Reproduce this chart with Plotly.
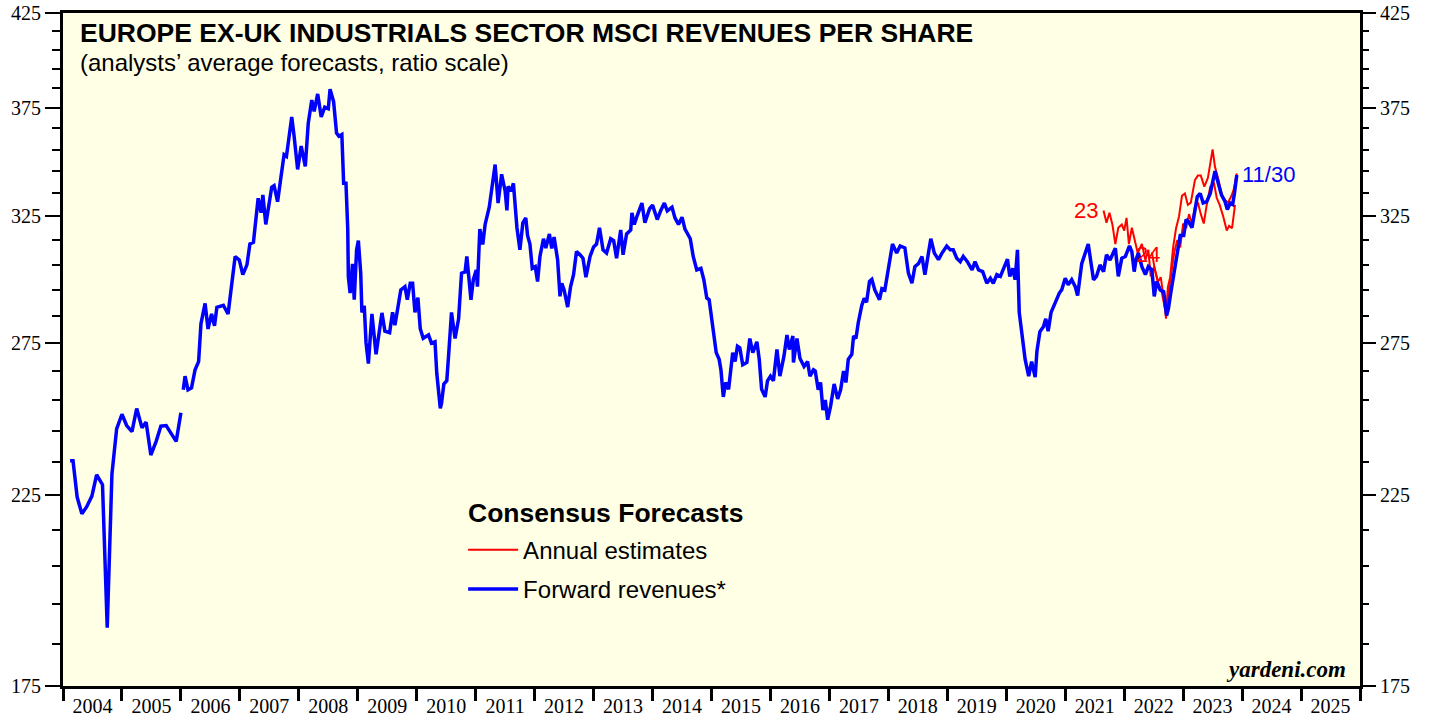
import math
import plotly.graph_objects as go

# ---------------- data ----------------
# Forward revenues (blue). Early monthly part, gap, then weekly part. Time in decimal years.
fwd_t_early = [2004.12, 2004.17, 2004.24, 2004.32, 2004.40, 2004.49, 2004.57, 2004.67, 2004.75, 2004.83,
               2004.91, 2005.00, 2005.08, 2005.17, 2005.25, 2005.34, 2005.41, 2005.49, 2005.58, 2005.66,
               2005.75, 2005.92, 2006.00]
fwd_v_early = [235.5, 235.5, 224.5, 219.6, 221.6, 224.8, 231.2, 228.2, 189.0, 231.4,
               245.6, 250.4, 246.7, 244.7, 252.3, 246.0, 247.8, 237.3, 241.6, 246.5,
               246.7, 241.6, 250.9]

fwd_t = [2006.04, 2006.07, 2006.12, 2006.18, 2006.24, 2006.30, 2006.34, 2006.41, 2006.46, 2006.52,
         2006.57, 2006.61, 2006.72, 2006.80, 2006.85, 2006.92, 2006.99, 2007.05, 2007.12, 2007.17,
         2007.23, 2007.27, 2007.31, 2007.36, 2007.39, 2007.44, 2007.48, 2007.54, 2007.58, 2007.64,
         2007.70, 2007.75, 2007.79, 2007.84, 2007.88, 2007.92, 2007.98, 2008.04, 2008.11, 2008.16,
         2008.22, 2008.26, 2008.32, 2008.38, 2008.44, 2008.50, 2008.53, 2008.59, 2008.64, 2008.68,
         2008.73, 2008.76, 2008.80, 2008.83, 2008.84, 2008.87, 2008.91, 2008.94, 2008.98, 2009.01,
         2009.05, 2009.07, 2009.11, 2009.14, 2009.18, 2009.24, 2009.31, 2009.41, 2009.46, 2009.54,
         2009.59, 2009.63, 2009.69, 2009.73, 2009.80, 2009.84, 2009.89, 2009.93, 2009.97, 2010.02,
         2010.06, 2010.11, 2010.20, 2010.25, 2010.31, 2010.34, 2010.40, 2010.42, 2010.46, 2010.51,
         2010.54, 2010.59, 2010.65, 2010.71, 2010.76, 2010.82, 2010.85, 2010.92, 2010.96, 2011.01,
         2011.03, 2011.07, 2011.12, 2011.16, 2011.23, 2011.27, 2011.33, 2011.38, 2011.44, 2011.50,
         2011.53, 2011.55, 2011.60, 2011.64, 2011.70, 2011.75, 2011.80, 2011.85, 2011.88, 2011.92,
         2011.96, 2012.01, 2012.05, 2012.09, 2012.15, 2012.19, 2012.25, 2012.29, 2012.33, 2012.39,
         2012.43, 2012.46, 2012.50, 2012.56, 2012.61, 2012.66, 2012.71, 2012.77, 2012.82, 2012.87,
         2012.94, 2013.00, 2013.05, 2013.10, 2013.16, 2013.22, 2013.29, 2013.34, 2013.39, 2013.46,
         2013.50, 2013.56, 2013.63, 2013.65, 2013.69, 2013.74, 2013.82, 2013.87, 2013.95, 2014.00,
         2014.08, 2014.14, 2014.20, 2014.25, 2014.33, 2014.38, 2014.44, 2014.50, 2014.55, 2014.64,
         2014.69, 2014.75, 2014.82, 2014.87, 2014.92, 2014.96, 2015.00, 2015.04, 2015.08, 2015.13,
         2015.16, 2015.20, 2015.24, 2015.29, 2015.33, 2015.36, 2015.40, 2015.44, 2015.48, 2015.53,
         2015.60, 2015.65, 2015.70, 2015.77, 2015.81, 2015.85, 2015.91, 2015.95, 2016.00, 2016.05,
         2016.11, 2016.16, 2016.23, 2016.28, 2016.32, 2016.38, 2016.39, 2016.45, 2016.50, 2016.57,
         2016.63, 2016.67, 2016.73, 2016.76, 2016.81, 2016.85, 2016.89, 2016.93, 2016.97, 2017.02,
         2017.08, 2017.14, 2017.19, 2017.24, 2017.28, 2017.32, 2017.38, 2017.41, 2017.45, 2017.49,
         2017.55, 2017.59, 2017.63, 2017.68, 2017.72, 2017.77, 2017.85, 2017.89, 2017.94, 2018.00,
         2018.07, 2018.14, 2018.20, 2018.28, 2018.34, 2018.40, 2018.45, 2018.51, 2018.57, 2018.62,
         2018.68, 2018.72, 2018.78, 2018.85, 2018.91, 2018.99, 2019.05, 2019.10, 2019.16, 2019.22,
         2019.27, 2019.34, 2019.42, 2019.47, 2019.53, 2019.60, 2019.67, 2019.73, 2019.78, 2019.84,
         2019.90, 2019.98, 2020.02, 2020.06, 2020.11, 2020.15, 2020.19, 2020.22, 2020.28, 2020.32,
         2020.38, 2020.43, 2020.49, 2020.52, 2020.57, 2020.63, 2020.67, 2020.71, 2020.76, 2020.83,
         2020.90, 2020.94, 2021.00, 2021.05, 2021.11, 2021.17, 2021.21, 2021.28, 2021.34, 2021.39,
         2021.43, 2021.48, 2021.53, 2021.59, 2021.65, 2021.70, 2021.76, 2021.85, 2021.90, 2021.96,
         2022.02, 2022.09, 2022.13, 2022.17, 2022.20, 2022.24, 2022.30, 2022.36, 2022.41, 2022.47,
         2022.51, 2022.55, 2022.61, 2022.67, 2022.72, 2022.75, 2022.79, 2022.84, 2022.89, 2022.95,
         2023.01, 2023.05, 2023.09, 2023.15, 2023.20, 2023.24, 2023.29, 2023.34, 2023.40, 2023.46,
         2023.54, 2023.60, 2023.65, 2023.71, 2023.75, 2023.80, 2023.84, 2023.87, 2023.91]
fwd_v = [258.6, 263.3, 258.6, 259.3, 265.5, 268.4, 282.1, 289.8, 280.2, 285.8,
         281.4, 288.3, 289.1, 285.8, 295.0, 308.3, 306.9, 301.0, 304.9, 313.4,
         314.1, 323.7, 332.9, 326.6, 334.4, 321.6, 327.3, 337.8, 338.5, 331.4,
         342.9, 352.6, 351.8, 363.6, 370.6, 361.3, 345.8, 356.6, 347.2, 367.5,
         378.9, 373.3, 382.0, 370.6, 375.4, 374.6, 384.4, 378.1, 362.8, 361.3,
         362.1, 339.5, 339.5, 319.6, 300.3, 293.8, 305.3, 291.2, 311.0, 314.8,
         301.6, 286.4, 288.9, 275.2, 267.7, 285.8, 271.0, 286.2, 279.4, 278.8,
         286.4, 281.6, 288.9, 295.0, 296.3, 291.2, 297.6, 297.6, 286.4, 292.0,
         280.3, 276.8, 278.0, 275.0, 275.5, 264.3, 252.4, 254.0, 260.6, 261.7,
         270.4, 286.4, 276.7, 284.0, 301.6, 302.1, 308.3, 291.2, 299.0, 302.9,
         296.3, 319.6, 313.2, 321.6, 329.0, 336.7, 348.0, 330.8, 343.6, 336.0,
         327.6, 338.2, 336.0, 339.5, 320.2, 311.0, 322.3, 324.4, 317.0, 313.4,
         303.5, 304.2, 298.3, 308.3, 315.6, 311.7, 317.6, 311.6, 316.3, 306.9,
         292.5, 297.6, 295.0, 288.4, 296.3, 301.0, 310.3, 309.0, 307.6, 300.0,
         308.3, 312.2, 313.4, 320.2, 311.0, 309.7, 315.6, 314.8, 307.6, 319.3,
         309.0, 317.6, 319.3, 326.6, 321.6, 325.4, 330.8, 322.3, 328.4, 329.9,
         323.7, 327.6, 330.8, 327.4, 329.0, 324.4, 321.6, 324.7, 319.6, 315.6,
         308.3, 302.9, 303.5, 299.0, 291.9, 291.2, 285.2, 277.6, 271.6, 269.2,
         265.5, 256.2, 261.1, 258.8, 266.7, 271.6, 268.4, 273.9, 273.3, 267.3,
         268.1, 276.7, 271.6, 275.5, 269.2, 258.8, 256.2, 261.7, 263.3, 261.7,
         272.7, 263.3, 270.4, 278.0, 272.7, 277.6, 268.1, 276.7, 269.6, 266.7,
         268.4, 263.3, 265.5, 265.1, 258.6, 261.1, 251.8, 255.2, 248.6, 253.1,
         260.6, 255.5, 258.6, 265.1, 261.1, 269.2, 271.0, 277.6, 276.7, 282.6,
         289.1, 291.8, 290.2, 298.3, 299.1, 295.0, 291.2, 295.5, 295.0, 302.9,
         313.4, 309.7, 312.6, 311.8, 301.6, 297.6, 304.2, 305.4, 308.3, 301.0,
         309.0, 315.6, 309.7, 307.0, 309.7, 312.6, 311.0, 311.0, 307.6, 306.2,
         308.3, 306.2, 302.9, 306.2, 302.9, 302.2, 297.6, 299.6, 297.6, 301.0,
         300.3, 304.9, 307.2, 300.3, 303.5, 299.0, 311.0, 286.4, 276.0, 269.2,
         263.3, 268.4, 263.0, 272.1, 279.2, 281.0, 284.0, 279.4, 286.4, 290.2,
         293.8, 295.0, 299.6, 297.0, 299.0, 296.3, 292.8, 305.4, 310.3, 313.4,
         306.9, 299.0, 300.3, 304.9, 302.2, 309.0, 306.9, 311.7, 300.3, 307.6,
         308.3, 312.6, 310.3, 302.2, 306.9, 309.7, 304.2, 301.0, 304.2, 302.9,
         292.5, 298.3, 295.0, 294.3, 285.2, 287.8, 293.8, 300.3, 306.9, 317.0,
         317.0, 323.7, 322.9, 320.2, 327.6, 333.6, 335.0, 330.8, 331.4, 335.0,
         345.0, 339.5, 334.4, 331.5, 328.0, 330.8, 330.2, 335.0, 343.3]

# Annual estimates (red)
est23_t = [2021.65, 2021.70, 2021.75, 2021.80, 2021.85, 2021.90, 2021.96, 2022.00, 2022.04, 2022.08,
           2022.13, 2022.18, 2022.23, 2022.30, 2022.36, 2022.41, 2022.45, 2022.51, 2022.58, 2022.64,
           2022.70, 2022.74, 2022.79, 2022.85, 2022.90, 2022.95, 2023.00, 2023.05, 2023.10, 2023.15,
           2023.20, 2023.25, 2023.30, 2023.35, 2023.40, 2023.46, 2023.52, 2023.57, 2023.62, 2023.68,
           2023.74, 2023.78, 2023.83, 2023.88]
est23_v = [327.6, 322.3, 326.6, 321.6, 313.4, 320.2, 321.6, 319.0, 324.4, 313.4,
           320.2, 315.0, 309.7, 313.4, 306.9, 311.0, 300.3, 304.2, 297.6, 293.8,
           287.0, 292.0, 300.0, 310.0, 315.0, 312.0, 322.0, 320.0, 326.0, 322.0,
           329.0, 331.0, 326.0, 322.0, 330.0, 338.0, 340.0, 333.0, 330.0, 325.0,
           319.0, 321.0, 320.0, 330.0]
est24_t = [2022.47, 2022.52, 2022.57, 2022.62, 2022.67, 2022.71, 2022.74, 2022.78, 2022.83, 2022.88,
           2022.93, 2022.98, 2023.03, 2023.08, 2023.13, 2023.20, 2023.25, 2023.30, 2023.36, 2023.42,
           2023.50, 2023.54, 2023.60, 2023.66, 2023.71, 2023.76, 2023.82, 2023.86, 2023.91]
est24_v = [310.0, 303.0, 298.0, 300.0, 292.0, 284.0, 296.0, 300.0, 312.0, 320.0,
           325.0, 334.0, 335.0, 330.0, 331.0, 341.0, 343.0, 343.0, 338.0, 342.0,
           355.0, 347.0, 341.0, 334.0, 332.0, 331.0, 334.0, 337.0, 344.0]

year_labels = [str(y) for y in range(2004, 2026)]
y_major = [175, 225, 275, 325, 375, 425]
y_minor = [v for v in range(185, 425, 10) if v not in y_major]

BLUE = "#0000FF"
RED = "#FF0000"
SANS = "Liberation Sans, Arial, sans-serif"
SERIF = "Liberation Serif, Times New Roman, serif"

fig = go.Figure()

fig.add_trace(go.Scatter(x=est23_t, y=est23_v, mode="lines", line=dict(color=RED, width=2),
                         name="Annual estimates", legendgroup="est", showlegend=True))
fig.add_trace(go.Scatter(x=est24_t, y=est24_v, mode="lines", line=dict(color=RED, width=2),
                         name="Annual estimates", legendgroup="est", showlegend=False))
fig.add_trace(go.Scatter(x=fwd_t_early + [None] + fwd_t, y=fwd_v_early + [None] + fwd_v, mode="lines",
                         line=dict(color=BLUE, width=3.5), name="Forward revenues*",
                         connectgaps=False, showlegend=True))
# invisible trace to carry the right-hand axis
fig.add_trace(go.Scatter(x=[fwd_t[0]], y=[fwd_v[0]], yaxis="y2", mode="lines",
                         line=dict(width=0), showlegend=False, hoverinfo="skip"))

yr_lo, yr_hi = math.log10(175), math.log10(425)
tickfont = dict(family=SERIF, size=20, color="black")

fig.update_layout(
    width=1429, height=717,
    margin=dict(l=63, r=69, t=13, b=31, autoexpand=False),
    paper_bgcolor="white",
    plot_bgcolor="#FFFFE6",
    font=dict(family=SANS, color="black"),
    showlegend=True,
    legend=dict(
        x=0.3085, y=0.2354, xanchor="left", yanchor="top",
        bgcolor="rgba(0,0,0,0)",
        font=dict(size=24, family=SANS),
        tracegroupgap=5, itemwidth=50,
    ),
    xaxis=dict(
        range=[2004, 2026], showgrid=False, zeroline=False, automargin=False,
        showline=True, linecolor="black", linewidth=3, mirror=True,
        tickmode="array", tickvals=[y + 0.5 for y in range(2004, 2026)], ticktext=year_labels,
        ticks="", tickfont=tickfont, ticklabeloverflow="allow",
        minor=dict(tickmode="array", tickvals=list(range(2004, 2027)), ticks="outside",
                   ticklen=12, tickwidth=3, tickcolor="black"),
    ),
    yaxis=dict(
        type="log", range=[yr_lo, yr_hi], showgrid=False, zeroline=False, automargin=False,
        showline=True, linecolor="black", linewidth=3, mirror=True,
        tickmode="array", tickvals=y_major, ticktext=[str(v) for v in y_major],
        ticks="outside", ticklen=15, tickwidth=2, tickcolor="black", tickfont=tickfont,
        ticklabeloverflow="allow",
        minor=dict(tickmode="array", tickvals=y_minor, ticks="outside", ticklen=8,
                   tickwidth=2, tickcolor="black"),
    ),
    yaxis2=dict(
        type="log", overlaying="y", side="right", matches="y", range=[yr_lo, yr_hi],
        showgrid=False, zeroline=False, showline=False, automargin=False,
        tickmode="array", tickvals=y_major, ticktext=[str(v) for v in y_major],
        ticks="outside", ticklen=15, tickwidth=2, tickcolor="black", tickfont=tickfont,
        ticklabeloverflow="allow",
        minor=dict(tickmode="array", tickvals=y_minor, ticks="outside", ticklen=8,
                   tickwidth=2, tickcolor="black"),
    ),
    annotations=[
        dict(text="<b>EUROPE EX-UK INDUSTRIALS SECTOR MSCI REVENUES PER SHARE</b>",
             xref="paper", yref="paper", x=0.0116, y=0.970, xanchor="left", yanchor="middle",
             showarrow=False, font=dict(size=26.5, family=SANS, color="black")),
        dict(text="(analysts\u2019 average forecasts, ratio scale)",
             xref="paper", yref="paper", x=0.0116, y=0.927, xanchor="left", yanchor="middle",
             showarrow=False, font=dict(size=24, family=SANS, color="black")),
        dict(text="<b>Consensus Forecasts</b>",
             xref="paper", yref="paper", x=0.3105, y=(686 - 513) / 673, xanchor="left", yanchor="middle",
             showarrow=False, font=dict(size=26.5, family=SANS, color="black")),
        dict(text="<b><i>yardeni.com</i></b>", xref="paper", yref="paper", x=0.991, y=0.024,
             xanchor="right", yanchor="middle", showarrow=False,
             font=dict(size=23, family=SERIF, color="black")),
        dict(text="23", xref="x", yref="y", x=est23_t[0] - 0.06, y=math.log10(est23_v[0]),
             xanchor="right", yanchor="middle", showarrow=False,
             font=dict(size=22, family=SANS, color=RED)),
        dict(text="24", xref="x", yref="y", x=2022.17, y=math.log10(309),
             xanchor="left", yanchor="middle", showarrow=False,
             font=dict(size=22, family=SANS, color=RED)),
        dict(text="11/30", xref="x", yref="y", x=fwd_t[-1] + 0.06, y=math.log10(fwd_v[-1]),
             xanchor="left", yanchor="middle", showarrow=False,
             font=dict(size=22, family=SANS, color=BLUE)),
    ],
)

# the page body normally adds an 8px margin around the figure; remove it
fig.write_html("out.html", config={"displayModeBar": False},
               post_script="document.body.style.margin='0';")
